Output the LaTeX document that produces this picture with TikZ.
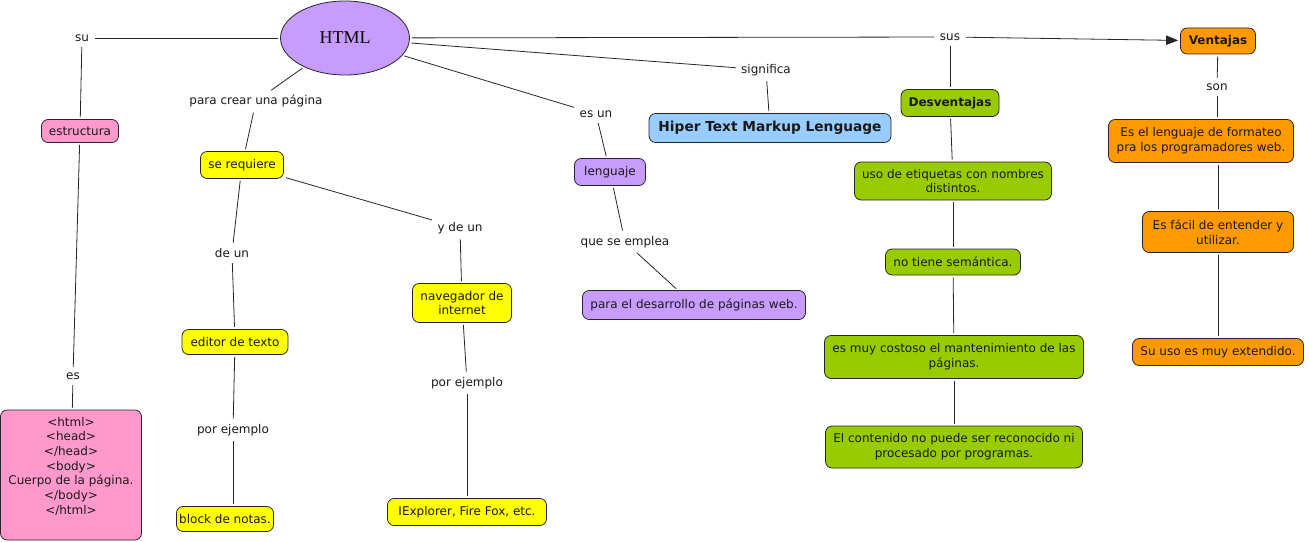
\documentclass[tikz,border=0pt]{standalone}
\usepackage{fontspec}
\setmainfont{DejaVu Sans}
\newfontfamily\htmlfont{Liberation Serif}
\usetikzlibrary{arrows.meta,shapes.geometric}
\definecolor{cpink}{HTML}{FF99CC}
\definecolor{cyellow}{HTML}{FFFF00}
\definecolor{cpurple}{HTML}{C89CFF}
\definecolor{cblue}{HTML}{99CCFF}
\definecolor{cgreen}{HTML}{99CC00}
\definecolor{corange}{HTML}{FF9900}
\tikzset{
  concept/.style={draw=black!85, line width=0.6pt, rounded corners=5pt, align=center,
    inner sep=0pt, font=\fontsize{9}{11}\selectfont, text=black!90},
  boldc/.style={concept, font=\fontsize{9}{11}\selectfont\bfseries},
  lbl/.style={inner sep=2.5pt, font=\fontsize{9}{11}\selectfont, text=black!90},
  conn/.style={draw=black!85, line width=0.6pt, shorten <=1.5pt, shorten >=1.5pt},
  arr/.style={conn, -{Triangle[length=9pt,width=7pt]}},
}
\begin{document}
\begin{tikzpicture}[x=0.75pt,y=-0.75pt]
\useasboundingbox (0,0) rectangle (1309,542);
% central concept
\node[ellipse, draw=black!85, line width=0.6pt, fill=cpurple, minimum width=129*0.75pt, minimum height=74*0.75pt,
  inner sep=0pt, font=\htmlfont\fontsize{13.5}{15}\selectfont] (html) at (345,38) {HTML};
% left branch
\node[lbl] (su) at (82,38) {su};
\node[concept, fill=cpink, minimum width=77*0.75pt, minimum height=23*0.75pt] (estr) at (80,131) {estructura};
\node[lbl] (es) at (73,376) {es};
\node[concept, fill=cpink, minimum width=141*0.75pt, minimum height=130*0.75pt] (code) at (71,475)
  {<html>\\<head>\\</head>\\<body>\\Cuerpo de la página.\\</body>\\</html>\\[3pt]\mbox{}};
% tools branch
\node[lbl] (para) at (256,101) {para crear una página};
\node[concept, fill=cyellow, minimum width=83*0.75pt, minimum height=27*0.75pt] (req) at (242,165) {se requiere};
\node[lbl] (deun) at (232,253) {de un};
\node[concept, fill=cyellow, minimum width=106*0.75pt, minimum height=25*0.75pt] (editor) at (235,342) {editor de texto};
\node[lbl] (pe1) at (233,430) {por ejemplo};
\node[concept, fill=cyellow, minimum width=97*0.75pt, minimum height=25*0.75pt] (block) at (225,519) {block de notas.};
\node[lbl] (ydeun) at (460,228) {y de un};
\node[concept, fill=cyellow, minimum width=99*0.75pt, minimum height=39*0.75pt] (nav) at (462,303) {navegador de\\internet};
\node[lbl] (pe2) at (467,383) {por ejemplo};
\node[concept, fill=cyellow, minimum width=159*0.75pt, minimum height=27*0.75pt] (iexp) at (467,512) {IExplorer, Fire Fox, etc.};
% lenguaje branch
\node[lbl] (esun) at (596,114) {es un};
\node[concept, fill=cpurple, minimum width=71*0.75pt, minimum height=27*0.75pt] (leng) at (610,172) {lenguaje};
\node[lbl] (qse) at (625,242) {que se emplea};
\node[concept, fill=cpurple, minimum width=223*0.75pt, minimum height=29*0.75pt] (desa) at (694,305) {para el desarrollo de páginas web.};
% significa
\node[lbl] (sig) at (766,70) {significa};
\node[concept, fill=cblue, minimum width=242*0.75pt, minimum height=29*0.75pt,
  font=\fontsize{10.3}{12}\selectfont\bfseries] (hiper) at (770,128) {Hiper Text Markup Lenguage};
% sus
\node[lbl] (sus) at (950,37) {sus};
\node[boldc, fill=cgreen, minimum width=98*0.75pt, minimum height=27*0.75pt] (desv) at (950,103) {Desventajas};
\node[concept, fill=cgreen, minimum width=197*0.75pt, minimum height=38*0.75pt] (d1) at (953,181) {uso de etiquetas con nombres\\distintos.};
\node[concept, fill=cgreen, minimum width=135*0.75pt, minimum height=26*0.75pt] (d2) at (953,262) {no tiene semántica.};
\node[concept, fill=cgreen, minimum width=259*0.75pt, minimum height=43*0.75pt] (d3) at (954,357) {es muy costoso el mantenimiento de las\\páginas.};
\node[concept, fill=cgreen, minimum width=257*0.75pt, minimum height=42*0.75pt] (d4) at (954,447) {El contenido no puede ser reconocido ni\\procesado por programas.};
\node[boldc, fill=corange, minimum width=75*0.75pt, minimum height=26*0.75pt] (vent) at (1218,41) {Ventajas};
\node[lbl] (son) at (1217,87) {son};
\node[concept, fill=corange, minimum width=185*0.75pt, minimum height=43*0.75pt] (v1) at (1201,141) {Es el lenguaje de formateo\\pra los programadores web.};
\node[concept, fill=corange, minimum width=151*0.75pt, minimum height=41*0.75pt] (v2) at (1218,232) {Es fácil de entender y\\utilizar.};
\node[concept, fill=corange, minimum width=171*0.75pt, minimum height=27*0.75pt] (v3) at (1218,352) {Su uso es muy extendido.};
% connectors
\draw[conn] (html) -- (su);
\draw[conn] (su) -- (estr);
\draw[conn] (estr) -- (es);
\draw[conn] (es) -- (code);
\draw[conn] (html) -- (para);
\draw[conn] (para) -- (req);
\draw[conn] (req) -- (deun);
\draw[conn] (deun) -- (editor);
\draw[conn] (editor) -- (pe1);
\draw[conn] (pe1) -- (pe1 |- block.north);
\draw[conn] (req) -- (ydeun);
\draw[conn] (ydeun) -- (nav);
\draw[conn] (nav) -- (pe2);
\draw[conn] (pe2) -- (iexp);
\draw[conn] (html) -- (esun);
\draw[conn] (esun) -- (leng);
\draw[conn] (leng) -- (qse);
\draw[conn] (qse) -- (desa);
\draw[conn] (html) -- (sig);
\draw[conn] (sig) -- (hiper);
\draw[conn] (html) -- (sus);
\draw[conn] (sus) -- (desv);
\draw[arr] (sus) -- (vent);
\draw[conn] (desv) -- (d1);
\draw[conn] (d1) -- (d2);
\draw[conn] (d2) -- (d3);
\draw[conn] (d3) -- (d4);
\draw[conn] (vent) -- (son);
\draw[conn] (son) -- (son |- v1.north);
\draw[conn] (v2.north |- v1.south) -- (v2.north);
\draw[conn] (v2) -- (v3);
\end{tikzpicture}
\end{document}
